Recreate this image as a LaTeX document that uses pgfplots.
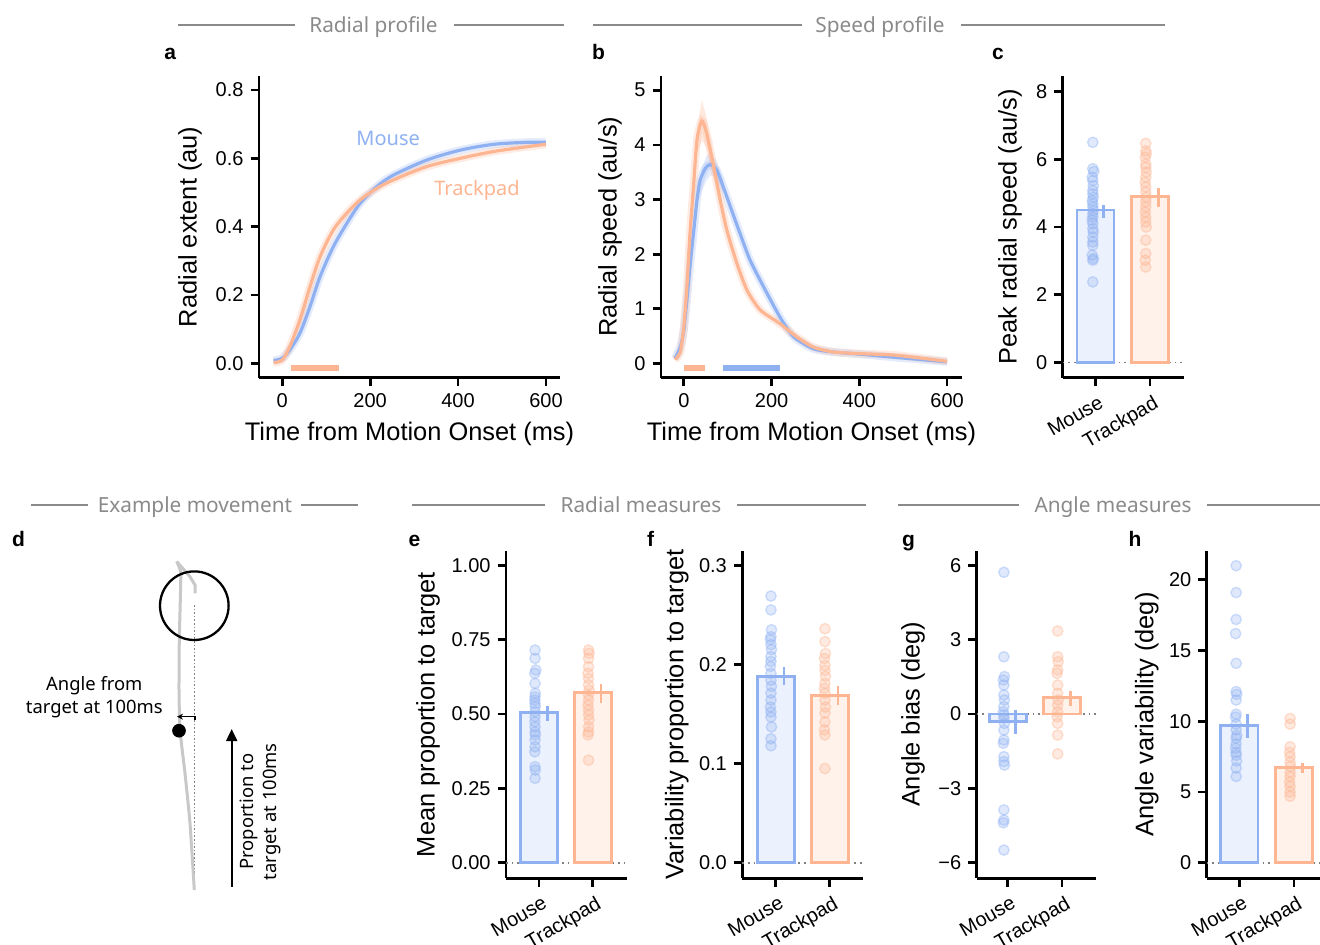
\documentclass[border=0pt]{standalone}
\usepackage{fontspec}
\setmainfont{Liberation Sans}
\newfontfamily\rob{Noto Sans}
\usepackage{pgfplots}
\pgfplotsset{compat=1.18}
\usetikzlibrary{arrows.meta}

\definecolor{mblue}{HTML}{8FB1F2}
\definecolor{torange}{HTML}{FDB592}
\definecolor{hdrgray}{HTML}{8A8A8A}
\definecolor{trajgray}{HTML}{C8C8C8}

\pgfplotsset{
  panel/.style={
    scale only axis, clip=false, enlargelimits=false,
    axis x line*=bottom, axis y line*=left,
    axis line style={line width=1.35pt, -},
    tick align=outside, major tick length=4.2pt,
    every tick/.style={black, line width=1.35pt},
    tick label style={font=\fontsize{10}{12}\selectfont},
    label style={font=\fontsize{12.7}{15}\selectfont},
    /pgf/number format/assume math mode=true,
  },
  cat/.style={
    panel, xtick={0,1}, xticklabels={Mouse,Trackpad},
    xticklabel style={rotate=30, anchor=north east, inner sep=1pt, yshift=-3pt},
    ytick pos=left,
  },
  ylab/.style={ylabel style={at={(axis description cs:-#1,0.5)}, anchor=center}},
  dotm/.style={only marks, mark=*, mark size=2.6pt,
    mark options={fill=#1, fill opacity=0.28, draw=#1, draw opacity=0.4, line width=0.7pt}},
  barm/.style={ybar, bar width=0.68, bar shift=0pt, draw=#1, fill=#1!18, line width=1.4pt},
  errm/.style={#1, line width=1.4pt},
  zeroline/.style={gray, dotted, line width=0.8pt},
}

\begin{document}
\begin{tikzpicture}
\path[use as bounding box] (0,0) rectangle (660pt,472pt);

% ---------- a: radial profile
\begin{axis}[panel, at={(129.5pt,283.15pt)}, anchor=south west,
  width=150.5pt, height=150.85pt,
  xmin=-53, xmax=632, ymin=-0.042, ymax=0.841,
  xtick={0,200,400,600}, ytick={0,0.2,0.4,0.6,0.8},
  yticklabel style={/pgf/number format/.cd, fixed, fixed zerofill, precision=1},
  xlabel={Time from Motion Onset (ms)}, ylabel={Radial extent (au)},
  ylab=0.229,
  xlabel style={at={(axis description cs:0.5,-0.187)}, anchor=center}]
\addplot[mblue, line width=4pt, opacity=0.25, smooth] coordinates {(-20,0.008) (0,0.015) (17,0.039) (40,0.088) (63,0.166) (86,0.254) (116,0.341) (147,0.41) (177,0.468) (215,0.517) (253,0.551) (329,0.595) (405,0.624) (481,0.641) (557,0.647) (600,0.647)};
\addplot[torange, line width=4pt, opacity=0.25, smooth] coordinates {(-20,0.002) (0,0.01) (17,0.049) (40,0.127) (63,0.224) (86,0.312) (116,0.39) (147,0.44) (177,0.478) (215,0.512) (253,0.537) (329,0.576) (405,0.6) (481,0.62) (557,0.634) (600,0.641)};
\addplot[mblue, line width=1.6pt, smooth] coordinates {(-20,0.008) (0,0.015) (17,0.039) (40,0.088) (63,0.166) (86,0.254) (116,0.341) (147,0.41) (177,0.468) (215,0.517) (253,0.551) (329,0.595) (405,0.624) (481,0.641) (557,0.647) (600,0.647)};
\addplot[torange, line width=1.6pt, smooth] coordinates {(-20,0.002) (0,0.01) (17,0.049) (40,0.127) (63,0.224) (86,0.312) (116,0.39) (147,0.44) (177,0.478) (215,0.512) (253,0.537) (329,0.576) (405,0.6) (481,0.62) (557,0.634) (600,0.641)};
\addplot[torange, line width=3pt] coordinates {(20,-0.013) (129,-0.013)};
\node[text=mblue, font=\rob\fontsize{10}{12}\selectfont] at (axis cs:241,0.657) {Mouse};
\node[text=torange, font=\rob\fontsize{10}{12}\selectfont] at (axis cs:443,0.507) {Trackpad};
\end{axis}

% ---------- b: speed profile
\begin{axis}[panel, at={(330.5pt,283.15pt)}, anchor=south west,
  width=150.5pt, height=150.85pt,
  xmin=-52, xmax=634, ymin=-0.26, ymax=5.26,
  xtick={0,200,400,600}, ytick={0,1,2,3,4,5},
  xlabel={Time from Motion Onset (ms)}, ylabel={Radial speed (au/s)},
  ylab=0.169,
  xlabel style={at={(axis description cs:0.5,-0.187)}, anchor=center}]
\addplot[mblue, fill=mblue, fill opacity=0.25, draw=none] coordinates {(30,3.0) (40,3.55) (52,3.8) (62,3.85) (75,3.7) (90,3.35) (90,3.12) (75,3.38) (62,3.45) (52,3.35) (40,3.15) (30,2.9)} -- cycle;
\addplot[torange, fill=torange, fill opacity=0.3, draw=none] coordinates {(22,3.4) (30,4.3) (41,4.82) (52,4.5) (68,3.8) (83,3.1) (83,2.85) (68,3.4) (52,3.95) (41,4.08) (30,3.85) (22,3.05)} -- cycle;
\addplot[mblue, line width=4pt, opacity=0.25, smooth, tension=0.4] coordinates {(-20,0.09) (-8,0.3) (0,0.61) (7,1.16) (14,1.77) (22,2.38) (30,2.99) (37,3.35) (49,3.57) (60,3.64) (75,3.54) (90,3.23) (106,2.87) (128,2.38) (151,1.89) (182,1.40) (219,0.85) (250,0.49) (295,0.27) (341,0.21) (402,0.17) (485,0.11) (600,0.03)};
\addplot[torange, line width=4pt, opacity=0.25, smooth, tension=0.4] coordinates {(-20,0.07) (-8,0.21) (0,0.67) (7,1.40) (14,2.38) (22,3.23) (30,4.09) (41,4.44) (52,4.21) (68,3.60) (83,2.99) (98,2.44) (121,1.83) (144,1.34) (174,0.98) (219,0.73) (257,0.49) (295,0.30) (341,0.21) (402,0.18) (485,0.15) (600,0.04)};
\addplot[mblue, line width=1.6pt, smooth, tension=0.4] coordinates {(-20,0.09) (-8,0.3) (0,0.61) (7,1.16) (14,1.77) (22,2.38) (30,2.99) (37,3.35) (49,3.57) (60,3.64) (75,3.54) (90,3.23) (106,2.87) (128,2.38) (151,1.89) (182,1.40) (219,0.85) (250,0.49) (295,0.27) (341,0.21) (402,0.17) (485,0.11) (600,0.03)};
\addplot[torange, line width=1.6pt, smooth, tension=0.4] coordinates {(-20,0.07) (-8,0.21) (0,0.67) (7,1.40) (14,2.38) (22,3.23) (30,4.09) (41,4.44) (52,4.21) (68,3.60) (83,2.99) (98,2.44) (121,1.83) (144,1.34) (174,0.98) (219,0.73) (257,0.49) (295,0.30) (341,0.21) (402,0.18) (485,0.15) (600,0.04)};
\addplot[torange, line width=3pt] coordinates {(0,-0.09) (49,-0.09)};
\addplot[mblue, line width=3pt] coordinates {(90,-0.09) (219,-0.09)};
\end{axis}

% ---------- c: peak radial speed
\begin{axis}[cat, at={(531.35pt,283.15pt)}, anchor=south west,
  width=60.65pt, height=150.85pt,
  xmin=-0.6, xmax=1.62, ymin=-0.45, ymax=8.46,
  ytick={0,2,4,6,8}, ylabel={Peak radial speed (au/s)}, ylab=0.434]
\addplot[zeroline] coordinates {(-0.6,0) (1.62,0)};
\addplot[barm=mblue] coordinates {(0,4.5)};
\addplot[barm=torange] coordinates {(1,4.9)};
\addplot[dotm=mblue] coordinates {(-0.05,6.5) (-0.05,5.72) (-0.03,5.64) (-0.06,5.47) (-0.05,5.37) (-0.04,5.22) (-0.05,5.08) (-0.05,4.98) (-0.04,4.88) (-0.06,4.78) (-0.05,4.69) (-0.05,4.59) (-0.04,4.49) (-0.05,4.39) (-0.05,4.29) (-0.06,4.2) (-0.05,4.1) (-0.05,3.95) (-0.04,3.85) (-0.05,3.7) (-0.05,3.56) (-0.05,3.46) (-0.06,3.17) (-0.04,3.07) (-0.05,3.02) (-0.05,2.38)};
\addplot[dotm=torange] coordinates {(0.92,6.47) (0.92,6.25) (0.93,6.16) (0.91,6.06) (0.92,5.86) (0.92,5.76) (0.93,5.62) (0.92,5.47) (0.91,5.32) (0.92,5.18) (0.92,5.03) (0.93,4.88) (0.92,4.74) (0.92,4.59) (0.91,4.44) (0.92,4.29) (0.92,4.15) (0.93,4.0) (0.92,3.61) (0.92,3.22) (0.91,3.02) (0.92,2.82)};
\addplot[errm=mblue] coordinates {(0.15,4.28) (0.15,4.66)};
\addplot[errm=torange] coordinates {(1.15,4.6) (1.15,5.15)};
\end{axis}

% ---------- d: example movement
\begin{axis}[hide axis, at={(0pt,0pt)}, anchor=south west, x=0.5pt, y=0.5pt,
  xmin=0, xmax=380, ymin=0, ymax=454, enlargelimits=false, clip=false]
\addplot[gray, densely dotted, line width=0.8pt] coordinates {(194.3,339) (194.3,54)};
\addplot[trajgray, line width=1.5pt, smooth, tension=0.3] coordinates {(194.3,54) (190,120.7) (185,170.7) (180,214) (179,254) (179.3,304) (180.3,344) (180.7,372) (176.7,382.5)};
\addplot[trajgray, line width=1.5pt] coordinates {(176.7,382.5) (190,367.3) (195,359) (195,350.7)};
\draw[black, line width=1.15pt] (axis cs:194.3,338.3) circle [radius=17.15pt];
\addplot[only marks, mark=*, mark size=3.2pt, black] coordinates {(179,213.3)};
\draw[-{Stealth[length=3pt,width=3pt]}, line width=0.6pt] (axis cs:195,224.5) -- (axis cs:195,227.3) -- (axis cs:177,227.3);
\draw[-{Triangle[length=6pt,width=5.5pt]}, line width=1pt] (axis cs:231.7,57.3) -- (axis cs:231.7,215);
\node[font=\rob\fontsize{9.2}{11.5}\selectfont, align=center] at (axis cs:94.3,247.3) {Angle from\\target at 100ms};
\node[font=\rob\fontsize{9.2}{11.5}\selectfont, align=center, rotate=90] at (axis cs:260,132.3) {Proportion to\\target at 100ms};
\end{axis}

% ---------- e: mean proportion to target
\begin{axis}[cat, at={(253pt,32.85pt)}, anchor=south west,
  width=60.35pt, height=163.8pt,
  xmin=-0.615, xmax=1.63, ymin=-0.052, ymax=1.049,
  ytick={0,0.25,0.5,0.75,1},
  yticklabel style={/pgf/number format/.cd, fixed, fixed zerofill, precision=2},
  ylabel={Mean proportion to target}, ylab=0.646]
\addplot[zeroline] coordinates {(-0.615,0) (1.63,0)};
\addplot[barm=mblue] coordinates {(0,0.505)};
\addplot[barm=torange] coordinates {(1,0.573)};
\addplot[dotm=mblue] coordinates {(-0.075,0.715) (-0.075,0.687) (-0.06,0.648) (-0.08,0.637) (-0.075,0.603) (-0.07,0.57) (-0.075,0.558) (-0.08,0.547) (-0.075,0.536) (-0.07,0.525) (-0.075,0.508) (-0.075,0.491) (-0.08,0.474) (-0.075,0.457) (-0.075,0.44) (-0.07,0.43) (-0.075,0.413) (-0.075,0.39) (-0.08,0.373) (-0.075,0.323) (-0.07,0.312) (-0.075,0.284)};
\addplot[dotm=torange] coordinates {(0.92,0.715) (0.93,0.704) (0.92,0.687) (0.92,0.659) (0.91,0.637) (0.92,0.62) (0.92,0.598) (0.93,0.58) (0.92,0.564) (0.92,0.547) (0.91,0.53) (0.92,0.513) (0.92,0.497) (0.93,0.48) (0.92,0.457) (0.92,0.44) (0.91,0.43) (0.92,0.345)};
\addplot[errm=mblue] coordinates {(0.15,0.478) (0.15,0.528)};
\addplot[errm=torange] coordinates {(1.15,0.538) (1.15,0.6)};
\end{axis}

% ---------- f: variability proportion to target
\begin{axis}[cat, at={(371.15pt,32.85pt)}, anchor=south west,
  width=60.5pt, height=163.8pt,
  xmin=-0.62, xmax=1.62, ymin=-0.0157, ymax=0.3147,
  ytick={0,0.1,0.2,0.3},
  yticklabel style={/pgf/number format/.cd, fixed, fixed zerofill, precision=1},
  ylabel={Variability proportion to target}, ylab=0.542]
\addplot[zeroline] coordinates {(-0.62,0) (1.62,0)};
\addplot[barm=mblue] coordinates {(0,0.188)};
\addplot[barm=torange] coordinates {(1,0.169)};
\addplot[dotm=mblue] coordinates {(-0.09,0.269) (-0.09,0.255) (-0.08,0.235) (-0.09,0.228) (-0.1,0.225) (-0.09,0.22) (-0.08,0.215) (-0.09,0.208) (-0.09,0.203) (-0.1,0.198) (-0.09,0.191) (-0.09,0.184) (-0.08,0.178) (-0.09,0.171) (-0.09,0.164) (-0.1,0.157) (-0.09,0.152) (-0.09,0.147) (-0.08,0.137) (-0.09,0.125) (-0.09,0.118)};
\addplot[dotm=torange] coordinates {(0.91,0.236) (0.91,0.223) (0.92,0.211) (0.9,0.206) (0.91,0.199) (0.91,0.194) (0.92,0.188) (0.91,0.181) (0.9,0.176) (0.91,0.171) (0.91,0.164) (0.92,0.157) (0.91,0.151) (0.91,0.142) (0.9,0.134) (0.91,0.129) (0.91,0.095)};
\addplot[errm=mblue] coordinates {(0.15,0.179) (0.15,0.197)};
\addplot[errm=torange] coordinates {(1.15,0.159) (1.15,0.178)};
\end{axis}

% ---------- g: angle bias
\begin{axis}[cat, at={(488.35pt,32.85pt)}, anchor=south west,
  width=59.5pt, height=163.8pt,
  xmin=-0.57, xmax=1.62, ymin=-6.63, ymax=6.59,
  ytick={-6,-3,0,3,6}, yticklabels={−6,−3,0,3,6},
  ylabel={Angle bias (deg)}, ylab=0.535]
\addplot[zeroline] coordinates {(-0.57,0) (1.62,0)};
\addplot[barm=mblue] coordinates {(0,-0.3)};
\addplot[barm=torange] coordinates {(1,0.66)};
\addplot[dotm=mblue] coordinates {(-0.07,5.72) (-0.07,2.31) (-0.06,1.51) (-0.08,1.37) (-0.07,1.17) (-0.07,0.77) (-0.06,0.57) (-0.07,0.3) (-0.08,0.09) (-0.07,-0.04) (-0.07,-0.17) (-0.06,-0.38) (-0.07,-0.65) (-0.07,-1.05) (-0.08,-1.18) (-0.07,-1.72) (-0.07,-1.92) (-0.06,-2.06) (-0.07,-3.87) (-0.07,-4.28) (-0.08,-4.39) (-0.07,-5.49)};
\addplot[dotm=torange] coordinates {(0.92,3.35) (0.92,2.31) (0.93,2.11) (0.92,1.78) (0.91,1.64) (0.92,1.17) (0.92,0.83) (0.93,0.57) (0.92,0.36) (0.92,0.09) (0.91,-0.11) (0.92,-0.38) (0.92,-0.85) (0.92,-1.61)};
\addplot[errm=mblue] coordinates {(0.15,-0.8) (0.15,0.16)};
\addplot[errm=torange] coordinates {(1.15,0.32) (1.15,0.93)};
\end{axis}

% ---------- h: angle variability
\begin{axis}[cat, at={(603.35pt,32.85pt)}, anchor=south west,
  width=60.5pt, height=163.8pt,
  xmin=-0.6, xmax=1.62, ymin=-1.1, ymax=22.06,
  ytick={0,5,10,15,20},
  ylabel={Angle variability (deg)}, ylab=0.496]
\addplot[zeroline] coordinates {(-0.6,0) (1.62,0)};
\addplot[barm=mblue] coordinates {(0,9.72)};
\addplot[barm=torange] coordinates {(1,6.73)};
\addplot[dotm=mblue] coordinates {(-0.06,21.0) (-0.06,19.1) (-0.06,17.2) (-0.07,16.2) (-0.06,14.1) (-0.06,12.1) (-0.05,11.9) (-0.06,11.5) (-0.06,10.5) (-0.07,10.3) (-0.06,9.8) (-0.06,9.4) (-0.05,9.0) (-0.06,8.8) (-0.06,8.4) (-0.07,8.1) (-0.06,7.8) (-0.06,7.6) (-0.05,7.2) (-0.06,6.7) (-0.06,6.1)};
\addplot[dotm=torange] coordinates {(0.93,10.2) (0.93,9.8) (0.93,8.2) (0.92,7.8) (0.93,7.5) (0.93,7.1) (0.94,6.8) (0.93,6.4) (0.93,6.1) (0.92,5.7) (0.93,5.4) (0.93,5.0) (0.93,4.7)};
\addplot[errm=mblue] coordinates {(0.15,8.85) (0.15,10.54)};
\addplot[errm=torange] coordinates {(1.15,6.31) (1.15,7.06)};
\end{axis}

% ---------- headers and panel letters
\begin{scope}[x=0.5pt, y=0.5pt]
\tikzset{hdr/.style={hdrgray, line width=0.8pt},
  htxt/.style={text=hdrgray, font=\rob\fontsize{10.4}{12}\selectfont, anchor=base, inner sep=0pt},
  plet/.style={font=\bfseries\fontsize{10.5}{12}\selectfont, anchor=base west, inner sep=0pt}}
\draw[hdr] (178,919) -- (295,919);
\draw[hdr] (454,919) -- (564,919);
\node[htxt] at (373.5,911.3) {Radial profile};
\draw[hdr] (593,919) -- (802,919);
\draw[hdr] (961,919) -- (1165,919);
\node[htxt] at (880,911.3) {Speed profile};
\draw[hdr] (31,439) -- (88,439);
\draw[hdr] (301,439) -- (358,439);
\node[htxt] at (195,431.3) {Example movement};
\draw[hdr] (412,439) -- (545,439);
\draw[hdr] (737,439) -- (866,439);
\node[htxt] at (641,431.3) {Radial measures};
\draw[hdr] (898,439) -- (1019,439);
\draw[hdr] (1207,439) -- (1320,439);
\node[htxt] at (1113,431.3) {Angle measures};
\node[plet] at (164,884) {a};
\node[plet] at (591.7,884) {b};
\node[plet] at (991.7,884) {c};
\node[plet] at (11.7,398) {d};
\node[plet] at (408.3,398) {e};
\node[plet] at (646.7,398) {f};
\node[plet] at (901.7,398) {g};
\node[plet] at (1128.3,398) {h};
\end{scope}
\end{tikzpicture}
\end{document}
